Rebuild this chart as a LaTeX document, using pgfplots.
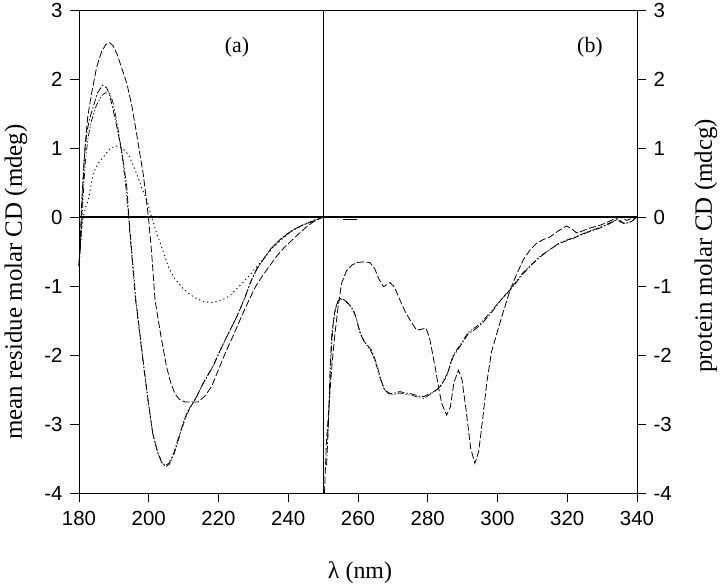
\documentclass[border=0pt]{standalone}
\usepackage{fontspec}
\setmainfont{Liberation Serif}
\newfontfamily\tickfont{Liberation Sans}
\usepackage{pgfplots}
\pgfplotsset{compat=1.18}

\tikzset{
  serA/.style={black, line width=0.8pt, dash pattern=on 7bp off 2.5bp},
  serB/.style={black, line width=0.8pt, dash pattern=on 7bp off 2bp on 1.5bp off 2bp},
  serC/.style={black, line width=0.7pt, dash pattern=on 6bp off 2bp on 1.2bp off 2bp on 1.2bp off 2bp},
  serD/.style={black, line width=0.9pt, dash pattern=on 1.2bp off 3bp},
}

\pgfplotsset{
  common/.style={
    scale only axis, width=558bp, height=483bp,
    at={(0,0)}, anchor=south west,
    xmin=180, xmax=340, ymin=-4, ymax=3,
    tick align=outside, major tick length=9bp,
    every tick/.style={black, line width=0.9pt},
    axis line style={line width=1pt},
    ticklabel style={font=\tickfont\fontsize{20.5}{20.5}\selectfont},
    /pgf/number format/assume math mode=true,
    ytick={-4,-3,...,3},
    xtick={180,200,...,340},
    clip=false,
  }
}

\begin{document}
\begin{tikzpicture}
\path[use as bounding box] (-79bp,-95bp) rectangle (641bp,493bp);

\begin{axis}[common,
  xtick pos=bottom, ytick pos=left,
  xticklabel style={yshift=-6bp},
  yticklabel style={xshift=-4bp},
]
% reference lines
\addplot[black, line width=1.1pt] coordinates {(180,0) (340,0)};
\addplot[black, line width=1pt] coordinates {(250,-4) (250,3)};

% ---------- panel (a) ----------
% A: dashed
\addplot[serA] coordinates {
(180,-0.70) (180.4,-0.30) (180.8,0.24) (181.7,1.00) (182.5,1.45) (183.6,1.79)
(185.1,2.18) (186.5,2.40) (187.7,2.50) (188.7,2.53) (189.8,2.48) (191,2.35)
(192.3,2.15) (193.7,1.94) (195.2,1.60) (196.5,1.21) (197.5,0.90) (198.4,0.63)
(199.2,0.30) (199.9,0.00) (200.8,-0.50) (201.8,-1.20) (203.4,-1.70) (205.1,-2.17)
(206.3,-2.40) (207.5,-2.56) (208.7,-2.64) (210.4,-2.68) (212,-2.68) (214.1,-2.68)
(216,-2.60) (218,-2.46) (220.1,-2.20) (222.3,-1.93) (224.4,-1.70) (226.6,-1.44)
(228.6,-1.22) (230.5,-1.02) (232.5,-0.86) (234.5,-0.72) (236.5,-0.58) (238.7,-0.45)
(241.2,-0.33) (243.3,-0.23) (245.3,-0.14) (247.5,-0.06) (250,0.0)
};
% B: dash-dot
\addplot[serB] coordinates {
(180,-0.72) (180.5,-0.30) (181,0.30) (181.5,0.85) (182.2,1.21) (183,1.42)
(184.1,1.60) (185.3,1.80) (186.8,1.91) (188,1.87) (189,1.72) (189.8,1.55)
(191,1.27) (192.2,0.97) (193,0.70) (193.7,0.44) (194.3,0.00) (195.3,-0.60)
(196.3,-1.20) (197.5,-1.70) (198.6,-2.17) (199.8,-2.65) (201.1,-3.13) (202.5,-3.40)
(203.7,-3.56) (204.7,-3.60) (205.8,-3.57) (207.2,-3.42) (208.2,-3.25) (209,-3.13)
(210.1,-2.95) (211.3,-2.80) (213.3,-2.65) (215.5,-2.42) (218.3,-2.18) (220.5,-1.93)
(223,-1.67) (225.2,-1.45) (227.3,-1.20) (229.3,-0.93) (231,-0.75) (232.8,-0.62)
(235,-0.46) (237.6,-0.33) (239.5,-0.25) (241.4,-0.19) (244,-0.12) (247.2,-0.06) (250,0.0)
};
% C: dash-dot-dot
\addplot[serC] coordinates {
(180,-0.70) (180.6,-0.30) (181.2,0.30) (181.8,0.80) (182.6,1.15) (183.6,1.40)
(185,1.62) (186.5,1.76) (187.6,1.80) (188.9,1.79) (189.8,1.65) (190.6,1.45)
(191.6,1.15) (192.6,0.80) (193.5,0.40) (194.2,0.00) (195.2,-0.60) (196.2,-1.20)
(197.4,-1.70) (198.6,-2.20) (199.9,-2.70) (201.2,-3.15) (202.6,-3.42) (203.9,-3.57)
(204.9,-3.62) (206,-3.58) (207.3,-3.43) (208.4,-3.25) (209.3,-3.10) (210.5,-2.92)
(211.7,-2.78) (213.5,-2.62) (215.7,-2.40) (218.5,-2.15) (220.8,-1.90) (223.2,-1.65)
(225.4,-1.43) (227.5,-1.18) (229.4,-0.92) (231.2,-0.74) (233,-0.60) (235.2,-0.45)
(237.8,-0.32) (240,-0.24) (242,-0.17) (244.5,-0.11) (247.5,-0.05) (250,0.0)
};
% D: dotted
\addplot[serD] coordinates {
(180,-0.70) (180.5,-0.30) (181.2,0.00) (182,0.15) (182.7,0.25) (184.1,0.63)
(185.5,0.78) (187,0.87) (188.9,0.99) (190.5,1.03) (191.5,1.02) (193,0.97)
(194.2,0.90) (195.3,0.78) (196.5,0.63) (198,0.42) (199.4,0.25) (200.8,0.00)
(202.3,-0.24) (204,-0.48) (205.6,-0.72) (207.5,-0.90) (209.9,-1.04) (212,-1.13)
(214,-1.19) (216,-1.23) (218,-1.24) (220,-1.22) (221.5,-1.19) (223.3,-1.14)
(225,-1.05) (227,-0.95) (229,-0.84) (231,-0.72) (233,-0.60) (235.5,-0.45)
(238,-0.33) (241,-0.20) (244,-0.12) (247,-0.05) (250,0.0)
};

% ---------- panel (b) ----------
\addplot[black, line width=0.8pt] coordinates {(255.7,-0.03) (259.7,-0.03)};
% A: dashed
\addplot[serA] coordinates {
(250.4,-4.00) (250.9,-3.30) (251.8,-2.65) (252.6,-2.10) (253.4,-1.69) (254.3,-1.30)
(255.3,-0.96) (256.7,-0.78) (258.2,-0.70) (259.6,-0.66) (261.5,-0.65) (263.4,-0.66)
(264.8,-0.75) (266,-0.90) (267.3,-1.01) (268.3,-0.98) (269.2,-0.95) (270.5,-1.02)
(272,-1.20) (273.5,-1.37) (275,-1.50) (276.8,-1.64) (278,-1.63) (279.5,-1.61)
(280.5,-1.75) (282.1,-2.17) (283.2,-2.50) (284,-2.70) (285.4,-2.87) (286.5,-2.75)
(287.5,-2.40) (288.8,-2.22) (289.8,-2.35) (291,-2.80) (292.3,-3.35) (293.5,-3.57)
(294.6,-3.40) (295.7,-2.95) (296.9,-2.41) (298.3,-1.95) (299.8,-1.69) (301.5,-1.40)
(303.6,-1.06) (305.5,-0.83) (307.4,-0.62) (309.3,-0.48) (311.2,-0.38) (313,-0.33)
(315,-0.29) (317.5,-0.20) (319.8,-0.13) (321.2,-0.17) (322.7,-0.23) (324.5,-0.20)
(326.5,-0.16) (329.4,-0.12) (331.3,-0.08) (333.5,-0.03) (335.1,0.00) (337,-0.05)
(338.5,-0.02) (340,0.0)
};
% B: dash-dot
\addplot[serB] coordinates {
(251,-3.60) (251.6,-2.90) (252,-2.17) (252.5,-1.69) (253.4,-1.35) (254.2,-1.22)
(255,-1.18) (256,-1.20) (257.5,-1.27) (258.7,-1.35) (259.7,-1.50) (260.6,-1.69)
(262,-1.82) (263.9,-1.93) (265.3,-2.12) (266.5,-2.35) (267.7,-2.51) (269.2,-2.56)
(270.5,-2.55) (272,-2.53) (273.5,-2.55) (275,-2.56) (276.5,-2.58) (277.8,-2.60)
(279,-2.60) (280.6,-2.56) (282,-2.52) (283.5,-2.47) (285.4,-2.31) (287.3,-2.02)
(289.2,-1.88) (290.5,-1.78) (291.6,-1.69) (293,-1.65) (295,-1.57) (297,-1.46)
(298.8,-1.35) (301,-1.20) (303.6,-1.06) (305.5,-0.94) (307.4,-0.82) (310,-0.68)
(312.2,-0.58) (315,-0.47) (317.9,-0.38) (320,-0.34) (321.7,-0.31) (324,-0.26)
(326.5,-0.21) (329.4,-0.16) (332,-0.10) (334.2,-0.04) (336,-0.09) (338,-0.08) (340,0.0)
};
% C: dash-dot-dot
\addplot[serC] coordinates {
(251.3,-3.20) (251.9,-2.50) (252.4,-1.90) (253,-1.50) (253.8,-1.28) (254.7,-1.20)
(255.5,-1.19) (256.6,-1.22) (258,-1.30) (259.2,-1.42) (260.3,-1.62) (261.7,-1.80)
(263.5,-1.92) (265,-2.10) (266.3,-2.33) (267.5,-2.50) (269,-2.57) (270.5,-2.57)
(272,-2.55) (273.5,-2.57) (275,-2.58) (276.5,-2.60) (277.8,-2.62) (278.9,-2.63)
(280.4,-2.58) (282,-2.53) (283.6,-2.45) (285.5,-2.28) (287.3,-2.00) (289.2,-1.86)
(291.6,-1.67) (295,-1.55) (298.8,-1.33) (303.6,-1.05) (307.4,-0.80) (312.2,-0.57)
(317.9,-0.37) (321.7,-0.30) (326.5,-0.20) (329.4,-0.15) (332,-0.09) (334.5,-0.03)
(336.5,-0.10) (338.5,-0.06) (340,0.0)
};
\end{axis}

\begin{axis}[common,
  axis x line=none, axis y line*=right,
  ytick pos=right,
  yticklabel style={xshift=4bp},
]
\end{axis}

\node[font=\fontsize{22}{22}\selectfont] at (158bp,446bp) {(a)};
\node[font=\fontsize{22}{22}\selectfont] at (511bp,446bp) {(b)};
\node[rotate=90, font=\fontsize{25}{25}\selectfont] at (-63bp,211bp) {mean residue molar CD (mdeg)};
\node[rotate=90, font=\fontsize{25}{25}\selectfont] at (627bp,247bp) {protein molar CD (mdcg)};
\node[font=\fontsize{24}{24}\selectfont] at (281bp,-80bp) {λ (nm)};
\end{tikzpicture}
\end{document}
